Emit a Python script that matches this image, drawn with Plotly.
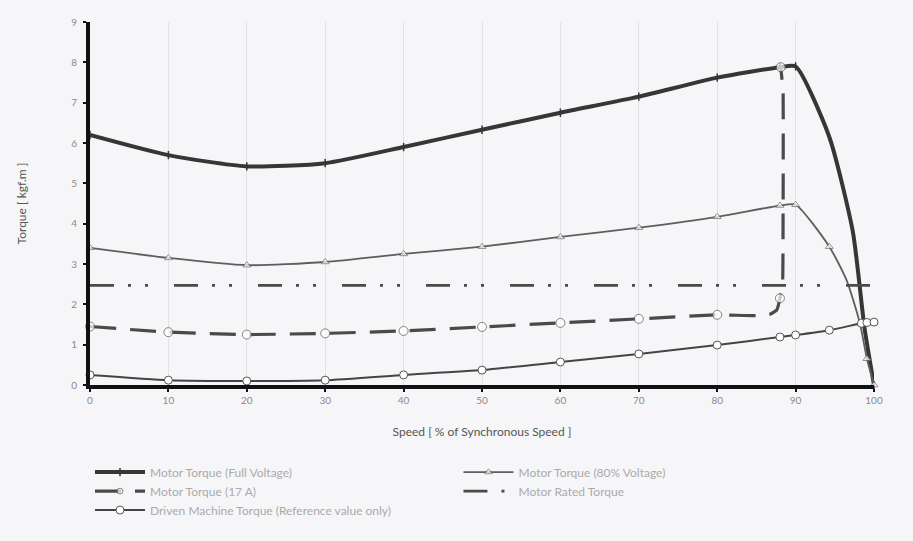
import plotly.graph_objects as go

# ---------------- data ----------------
x_ticks = [0, 10, 20, 30, 40, 50, 60, 70, 80, 90, 100]
y_ticks = [0, 1, 2, 3, 4, 5, 6, 7, 8, 9]

speed_full = [0, 10, 20, 30, 40, 50, 60, 70, 80, 88, 90, 94.3, 97.3, 98.8, 100]
torque_full = [6.2, 5.7, 5.42, 5.5, 5.9, 6.33, 6.75, 7.15, 7.62, 7.88, 7.9, 6.15, 3.8, 1.4, 0]

speed_80 = [0, 10, 20, 30, 40, 50, 60, 70, 80, 88, 90, 94.3, 96.5, 98.2, 99.1, 100]
torque_80 = [3.4, 3.15, 2.97, 3.05, 3.25, 3.43, 3.67, 3.9, 4.17, 4.45, 4.47, 3.43, 2.6, 1.53, 0.65, 0]
m80_marked = [1, 1, 1, 1, 1, 1, 1, 1, 1, 1, 1, 1, 0, 1, 1, 1]

speed_amp = [0, 10, 20, 30, 40, 50, 60, 70, 80, 85, 86.8, 87.6, 88.0, 88.35, 88.4, 88.4, 88.1]
torque_amp = [1.45, 1.31, 1.25, 1.28, 1.34, 1.44, 1.54, 1.64, 1.74, 1.72, 1.76, 1.86, 2.15, 2.6, 4.0, 7.3, 7.88]
amp_marked = [1, 1, 1, 1, 1, 1, 1, 1, 1, 0, 0, 0, 1, 0, 0, 0, 1]

speed_rated = [0, 100]
torque_rated = [2.47, 2.47]

speed_load = [0, 10, 20, 30, 40, 50, 60, 70, 80, 88, 90, 94.3, 98.4, 99.1, 100]
torque_load = [0.25, 0.12, 0.1, 0.12, 0.25, 0.37, 0.57, 0.77, 0.99, 1.19, 1.24, 1.36, 1.53, 1.55, 1.56]

names = [
    "Motor Torque (Full Voltage)",
    "Motor Torque (80% Voltage)",
    "Motor Torque (17 A)",
    "Motor Rated Torque",
    "Driven Machine Torque (Reference value only)",
]

fig = go.Figure()

fig.add_trace(go.Scatter(
    x=speed_full, y=torque_full, name=names[0], mode="lines+markers",
    line=dict(color="#363636", width=4, shape="spline", smoothing=0.6),
    marker=dict(symbol="line-ns", size=6, color="#363636",
                line=dict(color="#363636", width=1.5)),
    cliponaxis=False,
))
fig.add_trace(go.Scatter(
    x=speed_80, y=torque_80, name=names[1], mode="lines+markers",
    line=dict(color="#5e5e5e", width=1.8, shape="spline", smoothing=0.6),
    marker=dict(symbol="triangle-up", size=[7 * m for m in m80_marked], color="white",
                line=dict(color="#6a6a6a", width=1)),
    cliponaxis=False,
))
fig.add_trace(go.Scatter(
    x=speed_amp, y=torque_amp, name=names[2], mode="lines+markers",
    line=dict(color="#4a4a4a", width=3.2, shape="spline", smoothing=0.3,
              dash="26px,14px"),
    marker=dict(symbol="circle", size=[9 * m for m in amp_marked], color="white",
                line=dict(color="#555555", width=1)),
    cliponaxis=False,
))
fig.add_trace(go.Scatter(
    x=speed_rated, y=torque_rated, name=names[3], mode="lines",
    line=dict(color="#4a4a4a", width=2.8, dash="24px,14px,3px,14px,3px,26px"),
    cliponaxis=False,
))
fig.add_trace(go.Scatter(
    x=speed_load, y=torque_load, name=names[4], mode="lines+markers",
    line=dict(color="#444444", width=2, shape="spline", smoothing=0.5),
    marker=dict(symbol="circle", size=8, color="white",
                line=dict(color="#555555", width=1)),
    cliponaxis=False,
))

fig.update_layout(
    width=913, height=541,
    margin=dict(l=90, r=39, t=22, b=156),
    paper_bgcolor="#f6f6f8", plot_bgcolor="#f6f6f8",
    font=dict(family="Lato, DejaVu Sans, sans-serif", color="#777777"),
    showlegend=True,
    legend=dict(
        orientation="h", x=0, xanchor="left", y=-0.2, yanchor="top",
        entrywidth=0.47, entrywidthmode="fraction",
        font=dict(size=12, color="#aaaaaa"),
        bgcolor="rgba(0,0,0,0)", itemwidth=50,
    ),
    xaxis=dict(
        range=[0, 100], tickvals=x_ticks, ticktext=[str(v) for v in x_ticks],
        showgrid=True, gridcolor="#e2e2e6", gridwidth=1,
        showline=True, linecolor="#111111", linewidth=4,
        ticks="outside", ticklen=3, tickcolor="#111111", tickwidth=2,
        tickfont=dict(size=10, color="#8a8a8a"), zeroline=False,
        title=dict(text="Speed [ % of Synchronous Speed ]",
                   font=dict(size=12, color="#555555"), standoff=24),
    ),
    yaxis=dict(
        range=[0, 9], tickvals=y_ticks, ticktext=[str(v) for v in y_ticks],
        showgrid=False,
        showline=True, linecolor="#111111", linewidth=4,
        ticks="outside", ticklen=3, tickcolor="#111111", tickwidth=2,
        ticklabelstandoff=4,
        tickfont=dict(size=10, color="#8a8a8a"), zeroline=False,
        title=dict(text="Torque [ kgf.m ]",
                   font=dict(size=12, color="#555555"), standoff=43),
    ),
)

fig.write_html("out.html", config={"displayModeBar": False},
               post_script="document.body.style.margin='0';")
